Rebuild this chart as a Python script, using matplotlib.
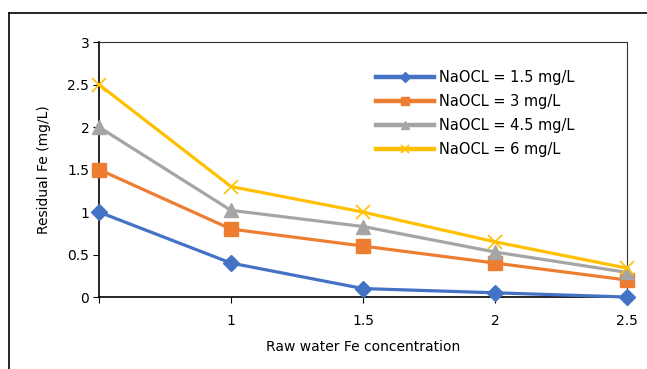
import matplotlib.pyplot as plt
from matplotlib.lines import Line2D

plt.rcParams['font.family'] = ['Liberation Sans Narrow', 'DejaVu Sans']

categories = ['', '1', '1.5', '2', '2.5']
fe_15 = [1.0, 0.4, 0.1, 0.05, 0.0]
fe_3 = [1.5, 0.8, 0.6, 0.4, 0.2]
fe_45 = [2.0, 1.02, 0.83, 0.53, 0.29]
fe_6 = [2.5, 1.3, 1.0, 0.65, 0.34]
series_names = ['NaOCL = 1.5 mg/L', 'NaOCL = 3 mg/L', 'NaOCL = 4.5 mg/L', 'NaOCL = 6 mg/L']

fig = plt.figure(figsize=(6.47, 3.69), dpi=100)
ax = fig.add_axes([0.153, 0.195, 0.816, 0.691])

xs = list(range(len(categories)))
ax.plot(xs, fe_15, color='#4472C4', lw=2.3, marker='D', ms=8.5, label=series_names[0], clip_on=False, zorder=3)
ax.plot(xs, fe_3, color='#ED7D31', lw=2.3, marker='s', ms=10, label=series_names[1], clip_on=False, zorder=3)
ax.plot(xs, fe_45, color='#A5A5A5', lw=2.3, marker='^', ms=10, label=series_names[2], clip_on=False, zorder=3)
ax.plot(xs, fe_6, color='#FFC000', lw=2.3, marker='x', ms=10, mew=1.2, label=series_names[3], clip_on=False, zorder=3)

ax.set_xlim(0, 4)
ax.set_ylim(0, 3)
ax.set_xticks(xs)
ax.set_xticklabels(categories)
ax.set_yticks([0, 0.5, 1, 1.5, 2, 2.5, 3])
ax.set_yticklabels(['0', '0.5', '1', '1.5', '2', '2.5', '3'])
ax.tick_params(labelsize=10, length=4, width=0.8, color='black', pad=3)
ax.tick_params(axis='x', pad=8)

for side in ['left', 'bottom']:
    ax.spines[side].set_linewidth(1.2)
    ax.spines[side].set_color('black')
for side in ['top', 'right']:
    ax.spines[side].set_linewidth(0.8)
    ax.spines[side].set_color('#333333')

ax.set_xlabel('Raw water Fe concentration', fontsize=10, labelpad=9)
ax.set_ylabel('Residual Fe (mg/L)', fontsize=10, labelpad=12)

leg = ax.legend(loc='upper left', bbox_to_anchor=(0.5, 0.94), frameon=False,
                fontsize=10.5, handlelength=4.0, handletextpad=0.3, labelspacing=0.6,
                markerscale=0.6)
for line in leg.get_lines():
    line.set_linewidth(3.2)

# outer chart frame
fig.add_artist(Line2D([0.014, 0.014], [0.0, 0.965], transform=fig.transFigure, color='black', lw=1.2))
fig.add_artist(Line2D([0.014, 1.0], [0.965, 0.965], transform=fig.transFigure, color='black', lw=1.2))

fig.savefig('out.png', dpi=100)
